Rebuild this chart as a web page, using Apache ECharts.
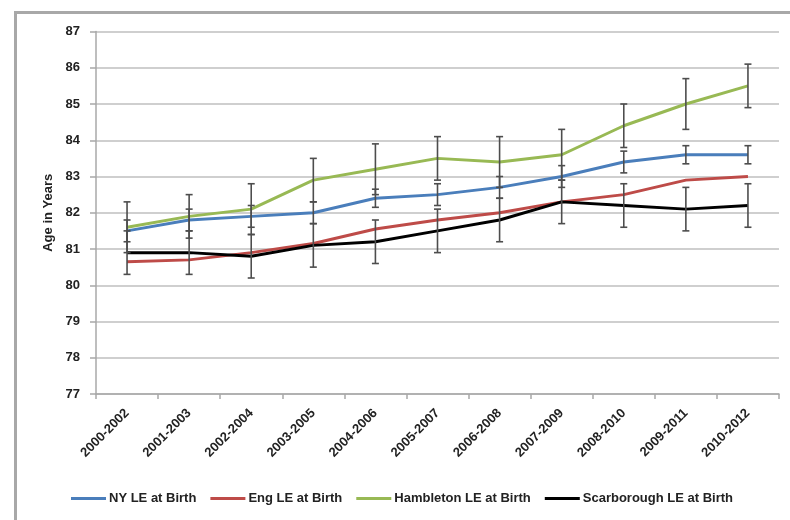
<!DOCTYPE html>
<html>
<head>
<meta charset="utf-8">
<script src="https://cdn.jsdelivr.net/npm/echarts@6/dist/echarts.min.js"></script>
<style>
html,body{margin:0;padding:0;background:#fff;}
#chart{width:790px;height:520px;}
</style>
</head>
<body>
<div id="chart"></div>
<script>
const categories = ['2000-2002','2001-2003','2002-2004','2003-2005','2004-2006','2005-2007','2006-2008','2007-2009','2008-2010','2009-2011','2010-2012'];
const nyValues   = [81.5, 81.8, 81.9, 82.0, 82.4, 82.5, 82.7, 83.0, 83.4, 83.6, 83.6];
const nyErrors   = [0.3, 0.3, 0.3, 0.3, 0.25, 0.3, 0.3, 0.3, 0.3, 0.25, 0.25];
const engValues  = [80.65, 80.7, 80.9, 81.15, 81.55, 81.8, 82.0, 82.3, 82.5, 82.9, 83.0];
const hamValues  = [81.6, 81.9, 82.1, 82.9, 83.2, 83.5, 83.4, 83.6, 84.4, 85.0, 85.5];
const hamErrors  = [0.7, 0.6, 0.7, 0.6, 0.7, 0.6, 0.7, 0.7, 0.6, 0.7, 0.6];
const scarValues = [80.9, 80.9, 80.8, 81.1, 81.2, 81.5, 81.8, 82.3, 82.2, 82.1, 82.2];
const scarErrors = [0.6, 0.6, 0.6, 0.6, 0.6, 0.6, 0.6, 0.6, 0.6, 0.6, 0.6];
const seriesNames = ['NY LE at Birth', 'Eng LE at Birth', 'Hambleton LE at Birth', 'Scarborough LE at Birth'];
const yMin = 77, yMax = 87, yStep = 1;

const colors = ['#4a7ebb', '#be4b48', '#98b954', '#000000'];

function errData(vals, errs) {
  return vals.map((v, i) => [i, v - errs[i], v + errs[i]]);
}

function renderErr(params, api) {
  const x = api.value(0);
  const lo = api.coord([x, api.value(1)]);
  const hi = api.coord([x, api.value(2)]);
  const w = 3.5;
  const st = { stroke: '#4d4d4d', lineWidth: 1.6 };
  return {
    type: 'group',
    children: [
      { type: 'line', shape: { x1: lo[0], y1: lo[1], x2: hi[0], y2: hi[1] }, style: st },
      { type: 'line', shape: { x1: lo[0] - w, y1: lo[1], x2: lo[0] + w, y2: lo[1] }, style: st },
      { type: 'line', shape: { x1: hi[0] - w, y1: hi[1], x2: hi[0] + w, y2: hi[1] }, style: st }
    ]
  };
}

function lineSeries(name, data, color) {
  return {
    name: name, type: 'line', data: data, symbol: 'none', smooth: false,
    lineStyle: { width: 3, color: color }, itemStyle: { color: color }, z: 3,
    emphasis: { disabled: true }
  };
}
function errSeries(name, vals, errs) {
  return {
    name: name + ' err', type: 'custom', data: errData(vals, errs),
    renderItem: renderErr, encode: { x: 0, y: [1, 2] }, z: 5, silent: true
  };
}

const chart = echarts.init(document.getElementById('chart'), null, { renderer: 'canvas' });
const font = 'Liberation Sans, Arial, sans-serif';
chart.setOption({
  animation: false,
  backgroundColor: '#fff',
  color: colors,
  textStyle: { fontFamily: font },
  graphic: [{
    type: 'rect', left: 13, top: 10, silent: true,
    shape: { width: 820, height: 560 },
    style: { fill: 'none', stroke: '#a8a8a8', lineWidth: 3 }
  }],
  grid: { left: 96, right: 11, top: 31.5, bottom: 126, containLabel: false },
  legend: {
    data: seriesNames, left: 66, top: 487, icon: 'rect', itemWidth: 35, itemHeight: 3,
    itemGap: 14, textStyle: { fontFamily: font, fontSize: 13, fontWeight: 'bold', color: '#222', padding: [0, 0, 0, -2] }
  },
  xAxis: {
    type: 'category', data: categories, boundaryGap: true,
    axisLine: { show: true, lineStyle: { color: '#a8a8a8', width: 1.5 } },
    axisTick: { show: true, alignWithLabel: false, length: 5, lineStyle: { color: '#a8a8a8', width: 1.5 } },
    axisLabel: { rotate: 45, margin: 17, interval: 0, fontFamily: font, fontSize: 13, fontWeight: 'bold', color: '#222' },
    splitLine: { show: false }
  },
  yAxis: {
    type: 'value', min: yMin, max: yMax, interval: yStep,
    name: 'Age in Years', nameLocation: 'middle', nameGap: 40, nameRotate: 90,
    nameTextStyle: { fontFamily: font, fontSize: 13, fontWeight: 'bold', color: '#222' },
    axisLine: { show: true, lineStyle: { color: '#a8a8a8', width: 1.5 } },
    axisTick: { show: true, length: 6, lineStyle: { color: '#a8a8a8', width: 1.5 } },
    axisLabel: { margin: 16, fontFamily: font, fontSize: 13, fontWeight: 'bold', color: '#222' },
    splitLine: { show: true, lineStyle: { color: '#cfcfcf', width: 1.8 } }
  },
  series: [
    lineSeries(seriesNames[0], nyValues, colors[0]),
    lineSeries(seriesNames[1], engValues, colors[1]),
    lineSeries(seriesNames[2], hamValues, colors[2]),
    lineSeries(seriesNames[3], scarValues, colors[3]),
    errSeries(seriesNames[0], nyValues, nyErrors),
    errSeries(seriesNames[2], hamValues, hamErrors),
    errSeries(seriesNames[3], scarValues, scarErrors)
  ]
});
</script>
</body>
</html>
